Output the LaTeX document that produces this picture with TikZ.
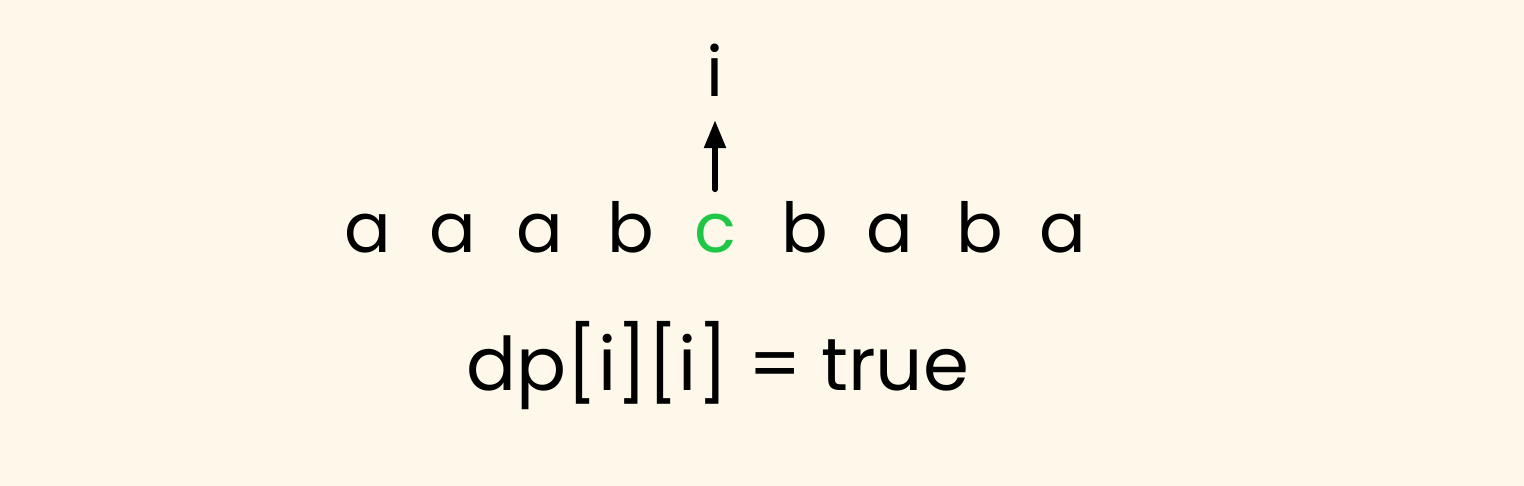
\documentclass[tikz,border=0pt]{standalone}
\usepackage{fontspec}
\setmainfont{Poppins}
\usetikzlibrary{arrows.meta}
\definecolor{bgc}{RGB}{253,248,234}
\definecolor{grn}{RGB}{30,200,70}
\begin{document}
\begin{tikzpicture}[x=1pt,y=-1pt,
  ch/.style={anchor=base,inner sep=0pt,font=\fontsize{69}{69}\selectfont},
  lbl/.style={anchor=base,inner sep=0pt,font=\fontsize{74}{74}\selectfont}]
\fill[bgc] (0,0) rectangle (1524,486);
\useasboundingbox (0,0) rectangle (1524,486);
\node[ch] (s1) at (368,253) {a};
\node[ch] (s2) at (453,253) {a};
\node[ch] (s3) at (540,253) {a};
\node[ch] (s4) at (631,253) {b};
\node[ch,text=grn] (c) at (715,253) {c};
\node[ch] (s6) at (805,253) {b};
\node[ch] (s7) at (890,253) {a};
\node[ch] (s8) at (980,253) {b};
\node[ch] (s9) at (1063,253) {a};
\node[ch] (i) at (715,97) {i};
\draw[line width=5.5pt,line cap=round,-{Triangle[length=28pt,width=21pt]},shorten <=25pt,shorten >=23pt] (c.north) -- (i.south);
\node[lbl] (dp) at (718,390) {dp[i][i] = true};
\end{tikzpicture}
\end{document}
